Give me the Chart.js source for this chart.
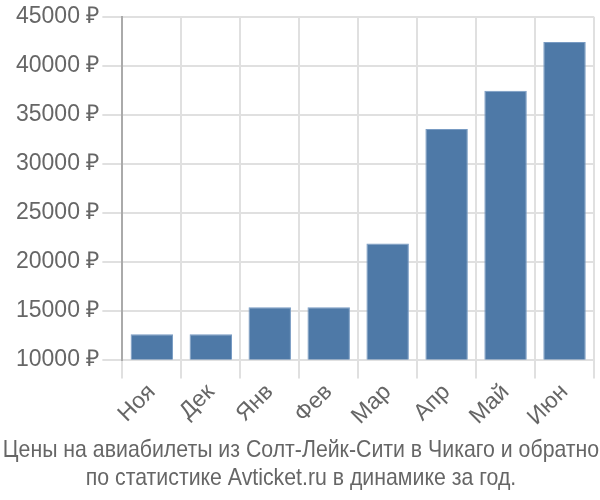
<!DOCTYPE html>
<html>
<head>
<meta charset="utf-8">
<script src="https://cdn.jsdelivr.net/npm/chart.js@4"></script>
<style>
  html, body { margin: 0; padding: 0; background: #fff; }
  #wrap { width: 600px; height: 500px; }
</style>
</head>
<body>
<div id="wrap"><canvas id="chart1"></canvas></div>
<script>
const months = ['Ноя', 'Дек', 'Янв', 'Фев', 'Мар', 'Апр', 'Май', 'Июн'];
const prices = [12580, 12580, 15350, 15350, 21850, 33550, 37450, 42430];
const titleLines = [
  'Цены на авиабилеты из Солт-Лейк-Сити в Чикаго и обратно',
  'по статистике Avticket.ru в динамике за год.'
];

// заголовок снизу, узкий шрифт (Narrow нет, сжимаем обычный)
const narrowTitle = {
  id: 'narrowTitle',
  afterDraw(chart) {
    const c = chart.ctx;
    c.save();
    c.fillStyle = '#666';
    c.font = '24px "Liberation Sans"';
    c.textAlign = 'center';
    c.textBaseline = 'alphabetic';
    const baselines = [457, 485];
    titleLines.forEach((line, i) => {
      c.save();
      c.translate(chart.width / 2 + 1, baselines[i]);
      c.scale(0.887, 1);
      c.fillText(line, 0, 0);
      c.restore();
    });
    c.restore();
  }
};

const ctx = document.getElementById('chart1').getContext('2d');
new Chart(ctx, {
  type: 'bar',
  data: {
    labels: months,
    datasets: [{
      data: prices,
      backgroundColor: 'rgb(78,121,167)',
      borderColor: 'rgb(120,155,195)',
      borderWidth: 1,
      barPercentage: 0.9,
      categoryPercentage: 0.8
    }]
  },
  options: {
    animation: false,
    responsive: true,
    maintainAspectRatio: false,
    layout: { padding: { left: 13, right: 6, top: -3, bottom: 69 } },
    scales: {
      x: {
        grid: { color: '#e0e0e0', lineWidth: 2, tickLength: 19 },
        border: { color: '#e0e0e0', width: 2 },
        ticks: {
          color: '#666',
          font: { family: 'Liberation Sans', size: 23 },
          maxRotation: 45,
          minRotation: 45,
          padding: 0
        }
      },
      y: {
        min: 10000,
        max: 45000,
        grid: { color: '#e0e0e0', lineWidth: 2, tickLength: 20 },
        border: { color: '#aaa', width: 2 },
        ticks: {
          stepSize: 5000,
          color: '#666',
          padding: 3,
          font: { family: 'Liberation Sans', size: 23 },
          callback: v => v + ' ₽'
        }
      }
    },
    plugins: {
      legend: { display: false },
      tooltip: { enabled: false },
      title: { display: false }
    }
  },
  plugins: [narrowTitle]
});
</script>
</body>
</html>
